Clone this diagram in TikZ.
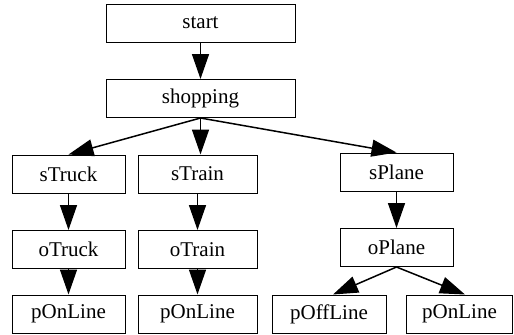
\documentclass[tikz,border=0pt]{standalone}
\usepackage{fontspec}
\setmainfont{Liberation Serif}
\usetikzlibrary{arrows.meta,positioning}

\begin{document}
\begin{tikzpicture}[
		box/.style={rectangle,draw,line width=0.5pt,inner sep=0pt,minimum height=19pt,
		minimum width=56.5pt,font=\fontsize{10.5}{12}\selectfont},
		node distance=37.75pt,
		>={Triangle[length=12.5pt,width=8.5pt]},
		link/.style={->,line width=0.75pt}
		]
		\useasboundingbox (0,0) rectangle (257pt,-167pt);

		\node[box, minimum width=94.5pt](start) at (100.25pt,-11.5pt){start};
		\node[box, minimum width=94.5pt, below of = start](shop){shopping};
		\node[box, below of = shop, xshift = -66pt](sTruck){sTruck};
		\node[box, minimum width=59.5pt, below of = shop, xshift = -1.5pt](sTrain){sTrain};
		\node[box, below of = shop, xshift = 98pt, yshift = 1pt](sPlane){sPlane};
		\node[box, below of = sTruck](oTruck){oTruck};
		\node[box, minimum width=59.5pt, below of = sTrain](oTrain){oTrain};
		\node[box, below of = sPlane](oPlane){oPlane};
		\node[box, below of = oTruck, yshift = 5.5pt](pTruck){pOnLine};
		\node[box, minimum width=59.5pt, below of = oTrain, yshift = 5.5pt](pTrain){pOnLine};
		\node[box, minimum width=57pt, below of = oPlane, xshift = -33.75pt, yshift = 4.5pt](pOff){pOffLine};
		\node[box, minimum width=52.75pt, below of = oPlane, xshift = 31.5pt, yshift = 4.5pt](pOn){pOnLine};

		\draw[link] (start) -- (shop);
		\draw[link] (shop.south) -- (sTruck.north);
		\draw[link] (shop.south) -- (shop.south |- sTrain.north);
		\draw[link] (shop.south) -- (sPlane.north);
		\draw[link] (sTruck) -- (oTruck);
		\draw[link] (sTrain) -- (oTrain);
		\draw[link] (sPlane) -- (oPlane);
		\draw[link] (oTruck) -- (pTruck);
		\draw[link] (oTrain) -- (pTrain);
		\draw[link] (oPlane.south) -- ([xshift=2pt]pOff.north);
		\draw[link] (oPlane.south) -- ([xshift=2.75pt]pOn.north);
	\end{tikzpicture}
\end{document}
